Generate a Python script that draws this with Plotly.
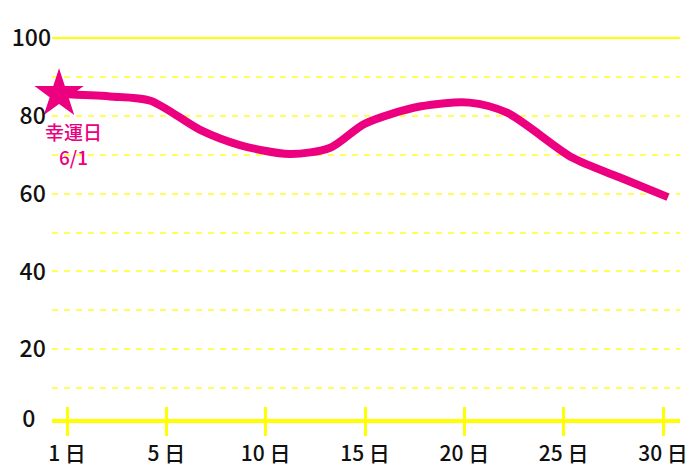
import plotly.graph_objects as go

# ---- data ----
tick_labels = ["1 日", "5 日", "10 日", "15 日", "20 日", "25 日", "30 日"]
tick_pos = [0, 1, 2, 3, 4, 5, 6]
# curve samples: position on the day axis (1日=0 ... 30日=6) and score
curve_pos = [-0.08, 0.43, 0.84, 1.34, 1.74, 2.24, 2.65, 3.0, 3.55, 4.05, 4.43, 5.09, 5.56, 6.05]
curve_val = [85.6, 85.0, 83.9, 76.4, 72.5, 70.2, 71.8, 78.0, 82.4, 83.4, 80.8, 69.2, 64.2, 59.1]
lucky_label = "幸運日<br>6/1"
y_labels = ["0&nbsp;&nbsp;&nbsp;", "20&nbsp;", "40&nbsp;", "60&nbsp;", "80&nbsp;", "100"]
y_label_vals = [20, 40, 60, 80, 100]
minor_grid = [10, 20, 30, 40, 50, 60, 70, 80, 90]

PINK = "#ec0080"
YEL = "#ffff00"
YEL_D = "#ffff55"
FONT = "Noto Sans CJK JP"

xr = [-0.151, 6.171]
yr = [2.07, 102.07]

fig = go.Figure()
# helper traces so the overlay axes are drawn
fig.add_trace(go.Scatter(x=[tick_pos[0]], y=[yr[1]], xaxis="x2", yaxis="y2",
                         mode="markers", marker=dict(opacity=0), hoverinfo="skip"))
fig.add_trace(go.Scatter(x=[tick_pos[0]], y=[yr[1]], xaxis="x", yaxis="y3",
                         mode="markers", marker=dict(opacity=0), hoverinfo="skip"))
fig.add_trace(go.Scatter(x=curve_pos, y=curve_val, mode="lines",
                         line=dict(color=PINK, width=8, shape="spline", smoothing=0.8),
                         hoverinfo="skip", cliponaxis=False))
fig.add_trace(go.Scatter(x=[curve_pos[0]], y=[curve_val[0]], mode="markers",
                         marker=dict(symbol="star", size=37, color=PINK, line=dict(width=0)),
                         hoverinfo="skip", cliponaxis=False))

fig.add_annotation(x=curve_pos[0], y=curve_val[0], text=lucky_label, showarrow=False,
                   xshift=14, yshift=-50, font=dict(family=FONT, size=19, color=PINK, weight=500),
                   align="center")

fig.update_layout(
    width=700, height=467,
    margin=dict(l=52, r=20, t=30, b=48, autoexpand=False),
    paper_bgcolor="white", plot_bgcolor="white",
    showlegend=False,
    font=dict(family=FONT, color="#111111"),
    xaxis=dict(range=xr, tickvals=tick_pos, ticktext=tick_labels, automargin=False,
               showgrid=False, zeroline=False,
               showline=True, linecolor=YEL, linewidth=4,
               ticks="outside", ticklen=13, tickwidth=3, tickcolor=YEL,
               tickfont=dict(size=21, color="#111111", family=FONT, weight=500)),
    xaxis2=dict(range=xr, overlaying="x", anchor="y", tickvals=tick_pos, automargin=False,
                showticklabels=False, showgrid=False, zeroline=False, showline=False,
                ticks="inside", ticklen=12, tickwidth=3, tickcolor=YEL),
    # the "0" label sits on the base line (bottom of the axis)
    yaxis=dict(range=yr, tickvals=[yr[0]] + y_label_vals, ticktext=y_labels, showgrid=False,
               automargin=False, zeroline=False, showline=False, ticks="", ticklabelstandoff=0,
               tickfont=dict(size=23, color="#111111", family=FONT, weight=500)),
    yaxis2=dict(range=yr, overlaying="y", anchor="x", tickvals=minor_grid, automargin=False,
                showticklabels=False, showgrid=True, gridcolor=YEL_D, gridwidth=1.5,
                griddash="6px,6px", zeroline=False, showline=False, ticks=""),
    yaxis3=dict(range=yr, overlaying="y", anchor="x", tickvals=[100], automargin=False,
                showticklabels=False, showgrid=True, gridcolor=YEL, gridwidth=2,
                zeroline=False, showline=False, ticks=""),
)

fig.write_html("out.html", config={"displayModeBar": False},
               post_script="document.body.style.margin='0';document.body.style.overflow='hidden';")
